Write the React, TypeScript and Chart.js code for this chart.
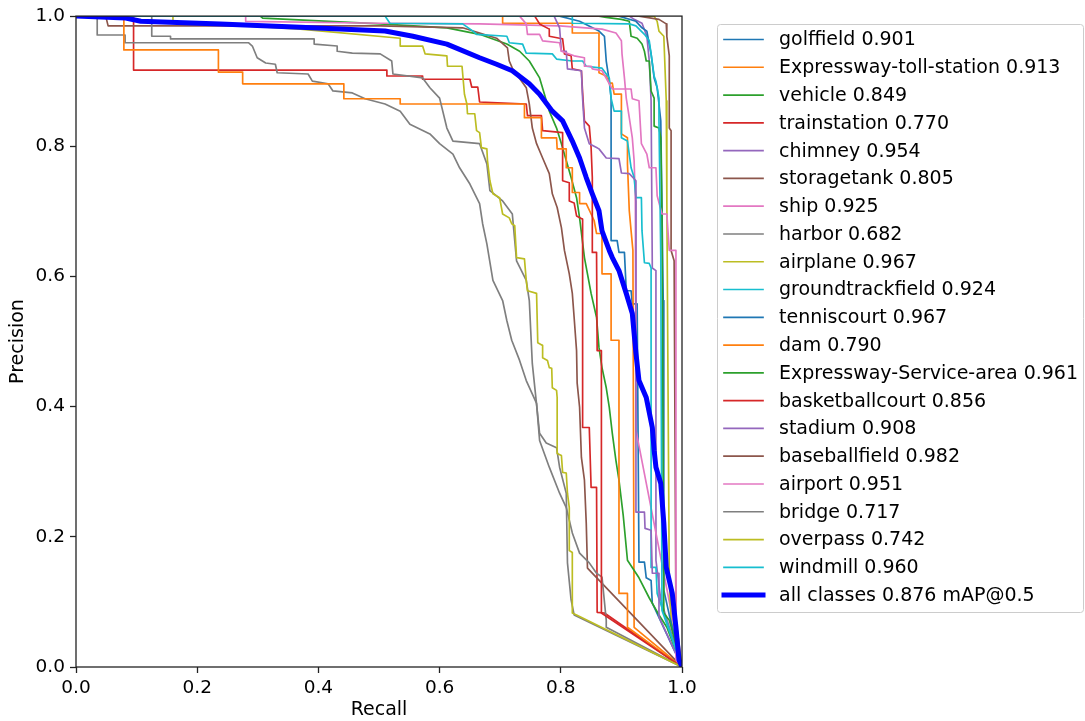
import React, { useEffect, useRef } from "react";
import { Chart, registerables } from "chart.js";

Chart.register(...registerables);

type Pt = [number, number];

// [recall, precision] points
const golffield: Pt[] = [[0,1],[0.798,1],[0.831,0.992],[0.863,0.977],[0.872,0.969],[0.875,0.931],[0.880,0.900],[0.883,0.874],[0.883,0.655],[0.893,0.655],[0.896,0.637],[0.905,0.637],[0.908,0.578],[0.916,0.578],[0.918,0.558],[0.926,0.558],[0.929,0.161],[0.938,0.161],[0.941,0.137],[0.949,0.133],[0.951,0.098],[1,0]];
const tollStation: Pt[] = [[0,1],[0.704,1],[0.704,0.989],[0.819,0.989],[0.819,0.974],[0.863,0.974],[0.863,0.913],[0.875,0.908],[0.880,0.897],[0.885,0.897],[0.888,0.880],[0.900,0.880],[0.900,0.819],[0.910,0.813],[0.910,0.773],[0.913,0.701],[0.916,0.670],[0.919,0.640],[0.921,0.061],[1,0]];
const vehicle: Pt[] = [[0,1],[0.304,1],[0.308,0.997],[0.502,0.988],[0.612,0.982],[0.666,0.972],[0.711,0.957],[0.732,0.946],[0.748,0.931],[0.765,0.905],[0.773,0.880],[0.781,0.854],[0.793,0.828],[0.801,0.804],[0.809,0.778],[0.817,0.752],[0.826,0.721],[0.831,0.690],[0.839,0.629],[0.850,0.574],[0.859,0.537],[0.863,0.491],[0.868,0.460],[0.875,0.429],[0.880,0.399],[0.885,0.359],[0.891,0.317],[0.896,0.287],[0.903,0.233],[0.910,0.164],[0.929,0.137],[0.946,0.106],[0.962,0.080],[0.975,0.061],[1,0]];
const trainstation: Pt[] = [[0,1],[0.095,1],[0.095,0.917],[0.513,0.917],[0.513,0.908],[0.571,0.908],[0.572,0.903],[0.650,0.903],[0.653,0.891],[0.663,0.891],[0.666,0.868],[0.686,0.867],[0.743,0.865],[0.745,0.847],[0.768,0.847],[0.770,0.824],[0.803,0.821],[0.803,0.747],[0.814,0.744],[0.814,0.716],[0.822,0.713],[0.826,0.693],[0.836,0.688],[0.836,0.368],[0.847,0.368],[0.850,0.276],[0.859,0.276],[0.860,0.084],[0.872,0.083],[1,0]];
const chimney: Pt[] = [[0,1],[0.913,1],[0.921,0.995],[0.934,0.989],[0.942,0.969],[0.946,0.931],[0.949,0.870],[0.951,0.613],[0.957,0.609],[0.957,0.164],[0.965,0.103],[1,0]];
const storagetank: Pt[] = [[0,1],[0.049,1],[0.053,0.985],[0.502,0.985],[0.638,0.982],[0.694,0.966],[0.712,0.951],[0.715,0.931],[0.720,0.920],[0.743,0.890],[0.748,0.865],[0.753,0.828],[0.760,0.804],[0.770,0.782],[0.781,0.758],[0.786,0.727],[0.794,0.706],[0.801,0.675],[0.806,0.640],[0.814,0.604],[0.819,0.574],[0.822,0.537],[0.826,0.486],[0.827,0.436],[0.831,0.399],[0.834,0.322],[0.839,0.287],[0.842,0.221],[0.844,0.152],[1,0]];
const ship: Pt[] = [[0,1],[0.280,1],[0.280,0.992],[0.502,0.989],[0.666,0.988],[0.798,0.985],[0.868,0.980],[0.891,0.974],[0.900,0.962],[0.901,0.942],[0.905,0.905],[0.908,0.874],[0.913,0.844],[0.918,0.813],[0.921,0.778],[0.923,0.716],[0.924,0.640],[0.924,0.364],[1,0]];
const harbor: Pt[] = [[0,1],[0.035,1],[0.035,0.971],[0.081,0.971],[0.081,0.959],[0.285,0.959],[0.291,0.954],[0.299,0.936],[0.313,0.928],[0.329,0.926],[0.332,0.913],[0.383,0.911],[0.390,0.900],[0.416,0.896],[0.424,0.885],[0.456,0.882],[0.477,0.873],[0.510,0.865],[0.535,0.854],[0.551,0.834],[0.584,0.819],[0.600,0.804],[0.622,0.788],[0.633,0.767],[0.650,0.742],[0.666,0.712],[0.671,0.681],[0.678,0.650],[0.688,0.594],[0.704,0.563],[0.711,0.532],[0.719,0.502],[0.732,0.471],[0.743,0.440],[0.760,0.405],[0.765,0.348],[0.781,0.307],[0.798,0.267],[0.809,0.245],[0.819,0.206],[0.831,0.175],[0.847,0.160],[0.859,0.144],[0.868,0.138],[0.875,0.072],[0.875,0.061],[1,0]];
const airplane: Pt[] = [[0,1],[0.954,1],[0.959,0.992],[0.962,0.977],[0.970,0.969],[0.974,0.870],[0.975,0.716],[0.979,0.133],[0.982,0.072],[1,0]];
const groundtrackfield: Pt[] = [[0,1],[0.510,1],[0.518,0.989],[0.638,0.988],[0.655,0.977],[0.661,0.972],[0.711,0.969],[0.715,0.959],[0.737,0.957],[0.743,0.943],[0.786,0.942],[0.793,0.934],[0.819,0.931],[0.836,0.931],[0.842,0.923],[0.868,0.920],[0.880,0.905],[0.883,0.874],[0.888,0.854],[0.900,0.854],[0.900,0.813],[0.910,0.808],[0.916,0.767],[0.921,0.752],[0.924,0.721],[0.933,0.721],[0.934,0.670],[0.938,0.621],[0.946,0.620],[0.949,0.613],[0.949,0.153],[0.957,0.153],[0.959,0.113],[1,0]];
const tenniscourt: Pt[] = [[0,1],[0.896,1],[0.924,0.992],[0.934,0.982],[0.942,0.977],[0.949,0.942],[0.954,0.905],[0.959,0.890],[0.962,0.865],[0.965,0.839],[0.969,0.563],[0.970,0.118],[0.979,0.080],[1,0]];
const dam: Pt[] = [[0,1],[0.079,1],[0.079,0.948],[0.235,0.948],[0.235,0.914],[0.275,0.914],[0.275,0.896],[0.442,0.896],[0.442,0.873],[0.535,0.873],[0.535,0.865],[0.740,0.865],[0.740,0.844],[0.768,0.844],[0.768,0.813],[0.793,0.813],[0.794,0.796],[0.809,0.796],[0.809,0.767],[0.819,0.767],[0.819,0.729],[0.831,0.729],[0.831,0.712],[0.842,0.712],[0.855,0.686],[0.859,0.666],[0.868,0.666],[0.868,0.604],[0.883,0.604],[0.883,0.502],[0.896,0.502],[0.896,0.113],[0.910,0.113],[0.910,0.061],[1,0]];
const serviceArea: Pt[] = [[0,1],[0.863,1],[0.875,0.998],[0.900,0.995],[0.913,0.992],[0.916,0.969],[0.926,0.966],[0.934,0.957],[0.938,0.946],[0.941,0.931],[0.946,0.931],[0.949,0.885],[0.954,0.874],[0.954,0.831],[0.962,0.828],[0.965,0.813],[0.967,0.690],[0.970,0.083],[0.979,0.072],[1,0]];
const basketballcourt: Pt[] = [[0,1],[0.757,1],[0.765,0.988],[0.781,0.980],[0.781,0.969],[0.798,0.966],[0.803,0.965],[0.806,0.942],[0.817,0.939],[0.819,0.919],[0.834,0.916],[0.836,0.882],[0.839,0.839],[0.847,0.831],[0.850,0.798],[0.852,0.752],[0.852,0.637],[0.859,0.637],[0.860,0.486],[0.867,0.486],[0.867,0.083],[1,0]];
const stadium: Pt[] = [[0,1],[0.789,1],[0.798,0.982],[0.801,0.946],[0.809,0.946],[0.811,0.919],[0.834,0.916],[0.836,0.873],[0.839,0.828],[0.847,0.804],[0.859,0.798],[0.863,0.796],[0.875,0.782],[0.896,0.781],[0.900,0.759],[0.913,0.758],[0.924,0.747],[0.924,0.238],[0.938,0.238],[0.939,0.213],[0.949,0.210],[0.951,0.144],[0.962,0.144],[0.962,0.077],[1,0]];
const baseballfield: Pt[] = [[0,1],[0.929,1],[0.962,0.995],[0.974,0.988],[0.975,0.969],[0.979,0.939],[0.979,0.828],[0.982,0.824],[0.982,0.640],[0.987,0.624],[0.990,0.072],[1,0]];
const airport: Pt[] = [[0,1],[0.732,1],[0.743,0.988],[0.745,0.972],[0.765,0.972],[0.770,0.962],[0.798,0.959],[0.801,0.946],[0.822,0.939],[0.839,0.936],[0.839,0.923],[0.850,0.923],[0.852,0.919],[0.868,0.916],[0.885,0.888],[0.916,0.888],[0.918,0.873],[0.929,0.870],[0.933,0.804],[0.942,0.788],[0.946,0.767],[0.957,0.767],[0.959,0.724],[0.967,0.696],[0.975,0.696],[0.979,0.640],[0.990,0.640],[0.990,0.011],[1,0]];
const bridge: Pt[] = [[0,1],[0.125,1],[0.125,0.969],[0.156,0.969],[0.156,0.965],[0.393,0.965],[0.393,0.957],[0.431,0.954],[0.431,0.946],[0.456,0.943],[0.502,0.942],[0.521,0.931],[0.523,0.911],[0.572,0.905],[0.584,0.890],[0.600,0.874],[0.612,0.828],[0.622,0.808],[0.666,0.804],[0.678,0.773],[0.683,0.732],[0.704,0.716],[0.720,0.696],[0.727,0.624],[0.743,0.594],[0.748,0.563],[0.753,0.466],[0.765,0.359],[0.776,0.344],[0.793,0.337],[0.798,0.307],[0.809,0.267],[0.811,0.160],[0.817,0.103],[0.822,0.080],[1,0]];
const overpass: Pt[] = [[0,1],[0.160,1],[0.160,0.992],[0.370,0.980],[0.535,0.966],[0.535,0.954],[0.572,0.954],[0.576,0.942],[0.612,0.939],[0.613,0.923],[0.637,0.923],[0.641,0.880],[0.645,0.865],[0.646,0.850],[0.658,0.850],[0.661,0.824],[0.666,0.821],[0.669,0.798],[0.678,0.796],[0.679,0.778],[0.683,0.747],[0.688,0.727],[0.699,0.721],[0.702,0.706],[0.704,0.696],[0.715,0.690],[0.719,0.681],[0.724,0.678],[0.727,0.629],[0.740,0.627],[0.743,0.594],[0.745,0.578],[0.760,0.574],[0.762,0.498],[0.770,0.494],[0.770,0.475],[0.778,0.471],[0.781,0.460],[0.785,0.459],[0.786,0.429],[0.793,0.425],[0.794,0.414],[0.794,0.328],[0.801,0.325],[0.803,0.299],[0.809,0.298],[0.811,0.267],[0.814,0.245],[0.814,0.179],[0.819,0.176],[0.819,0.083],[0.826,0.080],[1,0]];
const windmill: Pt[] = [[0,1],[0.819,1],[0.819,0.989],[0.913,0.988],[0.924,0.985],[0.938,0.972],[0.946,0.962],[0.954,0.908],[0.957,0.900],[0.962,0.874],[0.962,0.839],[0.965,0.629],[0.967,0.087],[1,0]];
const allClasses: Pt[] = [[0,1],[0.082,0.997],[0.107,0.992],[0.238,0.988],[0.370,0.983],[0.510,0.977],[0.556,0.969],[0.612,0.957],[0.666,0.936],[0.694,0.926],[0.720,0.916],[0.748,0.896],[0.765,0.880],[0.786,0.854],[0.803,0.839],[0.819,0.808],[0.831,0.782],[0.842,0.752],[0.852,0.727],[0.863,0.701],[0.868,0.670],[0.880,0.640],[0.885,0.629],[0.896,0.609],[0.908,0.574],[0.918,0.543],[0.924,0.482],[0.929,0.440],[0.941,0.414],[0.951,0.368],[0.954,0.333],[0.957,0.307],[0.965,0.282],[0.970,0.221],[0.974,0.153],[0.984,0.113],[0.990,0.061],[0.995,0.011],[1,0]];

const classNames = ["golffield","Expressway-toll-station","vehicle","trainstation","chimney","storagetank","ship","harbor","airplane","groundtrackfield","tenniscourt","dam","Expressway-Service-area","basketballcourt","stadium","baseballfield","airport","bridge","overpass","windmill"];
const apValues = [0.901,0.913,0.849,0.770,0.954,0.805,0.925,0.682,0.967,0.924,0.967,0.790,0.961,0.856,0.908,0.982,0.951,0.717,0.742,0.960];
const classCurves = [golffield,tollStation,vehicle,trainstation,chimney,storagetank,ship,harbor,airplane,groundtrackfield,tenniscourt,dam,serviceArea,basketballcourt,stadium,baseballfield,airport,bridge,overpass,windmill];
const palette = ["#1f77b4","#ff7f0e","#2ca02c","#d62728","#9467bd","#8c564b","#e377c2","#7f7f7f","#bcbd22","#17becf"];
const mapValue = 0.876;
const xTicks = [0,0.2,0.4,0.6,0.8,1.0];
const yTicks = [0,0.2,0.4,0.6,0.8,1.0];

const FONT = "DejaVu Sans";
const TICK_FS = 18.5;
const TEXT_FS = 19;

const framePlugin = {
  id: "frame",
  afterDatasetsDraw(chart: any) {
    const { ctx, chartArea: a } = chart;
    ctx.save();
    ctx.strokeStyle = "#222";
    ctx.lineWidth = 1.3;
    ctx.strokeRect(a.left, a.top, a.right - a.left, a.bottom - a.top);
    ctx.restore();
  },
};

const legendPlugin = {
  id: "mplLegend",
  afterDraw(chart: any) {
    const ctx = chart.ctx;
    ctx.save();
    const x0 = 717.5, y0 = 24.5, x1 = 1083.5, y1 = 612.5;
    ctx.beginPath();
    (ctx as any).roundRect(x0, y0, x1 - x0, y1 - y0, 3);
    ctx.fillStyle = "rgba(255,255,255,0.85)";
    ctx.fill();
    ctx.strokeStyle = "#cccccc";
    ctx.lineWidth = 1;
    ctx.stroke();
    ctx.font = `${TEXT_FS}px "${FONT}"`;
    ctx.textBaseline = "middle";
    ctx.textAlign = "left";
    const n = chart.data.datasets.length;
    for (let i = 0; i < n; i++) {
      const ds = chart.data.datasets[i];
      const y = 39.5 + i * 27.78;
      ctx.beginPath();
      ctx.moveTo(724, y);
      ctx.lineTo(763, y);
      ctx.strokeStyle = ds.borderColor;
      ctx.lineWidth = ds.borderWidth;
      ctx.lineCap = "square";
      ctx.stroke();
      ctx.fillStyle = "#000";
      ctx.fillText(ds.label, 779, y + 1);
    }
    ctx.restore();
  },
};

export default function App() {
  const ref = useRef<HTMLCanvasElement | null>(null);
  useEffect(() => {
    if (!ref.current) return;
    const n = classNames.length;
    const datasets: any[] = classCurves.map((c, i) => ({
      label: `${classNames[i]} ${apValues[i].toFixed(3)}`,
      data: c.map(([x, y]) => ({ x, y })),
      borderColor: palette[i % 10],
      backgroundColor: palette[i % 10],
      borderWidth: 1.67,
      pointRadius: 0,
      tension: 0,
      fill: false,
      borderJoinStyle: "round",
      order: 100 - i,
    }));
    datasets.push({
      label: `all classes ${mapValue.toFixed(3)} mAP@0.5`,
      data: allClasses.map(([x, y]) => ({ x, y })),
      borderColor: "#0000ff",
      backgroundColor: "#0000ff",
      borderWidth: 5,
      pointRadius: 0,
      tension: 0,
      fill: false,
      borderJoinStyle: "round",
      order: 100 - n,
    });
    const tickFont = { family: FONT, size: TICK_FS };
    const titleFont = { family: FONT, size: TEXT_FS };
    const chart = new Chart(ref.current, {
      type: "line",
      data: { datasets },
      options: {
        responsive: false,
        animation: false,
        devicePixelRatio: 1,
        layout: { padding: { left: 0, top: 15, right: 403, bottom: 0 } },
        plugins: { legend: { display: false }, tooltip: { enabled: false } },
        scales: {
          x: {
            type: "linear",
            min: 0,
            max: 1,
            afterBuildTicks: (s: any) => { s.ticks = xTicks.map((v) => ({ value: v })); },
            afterFit: (s: any) => { s.height = 54; },
            ticks: { callback: (v: any) => Number(v).toFixed(1), font: tickFont, color: "#000", padding: 4, maxRotation: 0, autoSkip: false },
            grid: { drawOnChartArea: false, drawTicks: true, tickLength: 6, tickColor: "#222", tickWidth: 1.3 },
            border: { display: false },
            title: { display: true, text: "Recall", font: titleFont, color: "#000", padding: { top: 0, bottom: 0 } },
          },
          y: {
            type: "linear",
            min: 0,
            max: 1,
            afterBuildTicks: (s: any) => { s.ticks = yTicks.map((v) => ({ value: v })); },
            afterFit: (s: any) => { s.width = 76; },
            ticks: { callback: (v: any) => Number(v).toFixed(1), font: tickFont, color: "#000", padding: 5, autoSkip: false },
            grid: { drawOnChartArea: false, drawTicks: true, tickLength: 6, tickColor: "#222", tickWidth: 1.3 },
            border: { display: false },
            title: { display: true, text: "Precision", font: titleFont, color: "#000", padding: { top: 7, bottom: 0 } },
          },
        },
      } as any,
      plugins: [framePlugin, legendPlugin],
    });
    return () => chart.destroy();
  }, []);
  return (
    <div style={{ position: "fixed", left: 0, top: 0, width: 1085, height: 721, background: "#fff" }}>
      <canvas ref={ref} width={1085} height={721} style={{ display: "block", width: 1085, height: 721 }} />
    </div>
  );
}
